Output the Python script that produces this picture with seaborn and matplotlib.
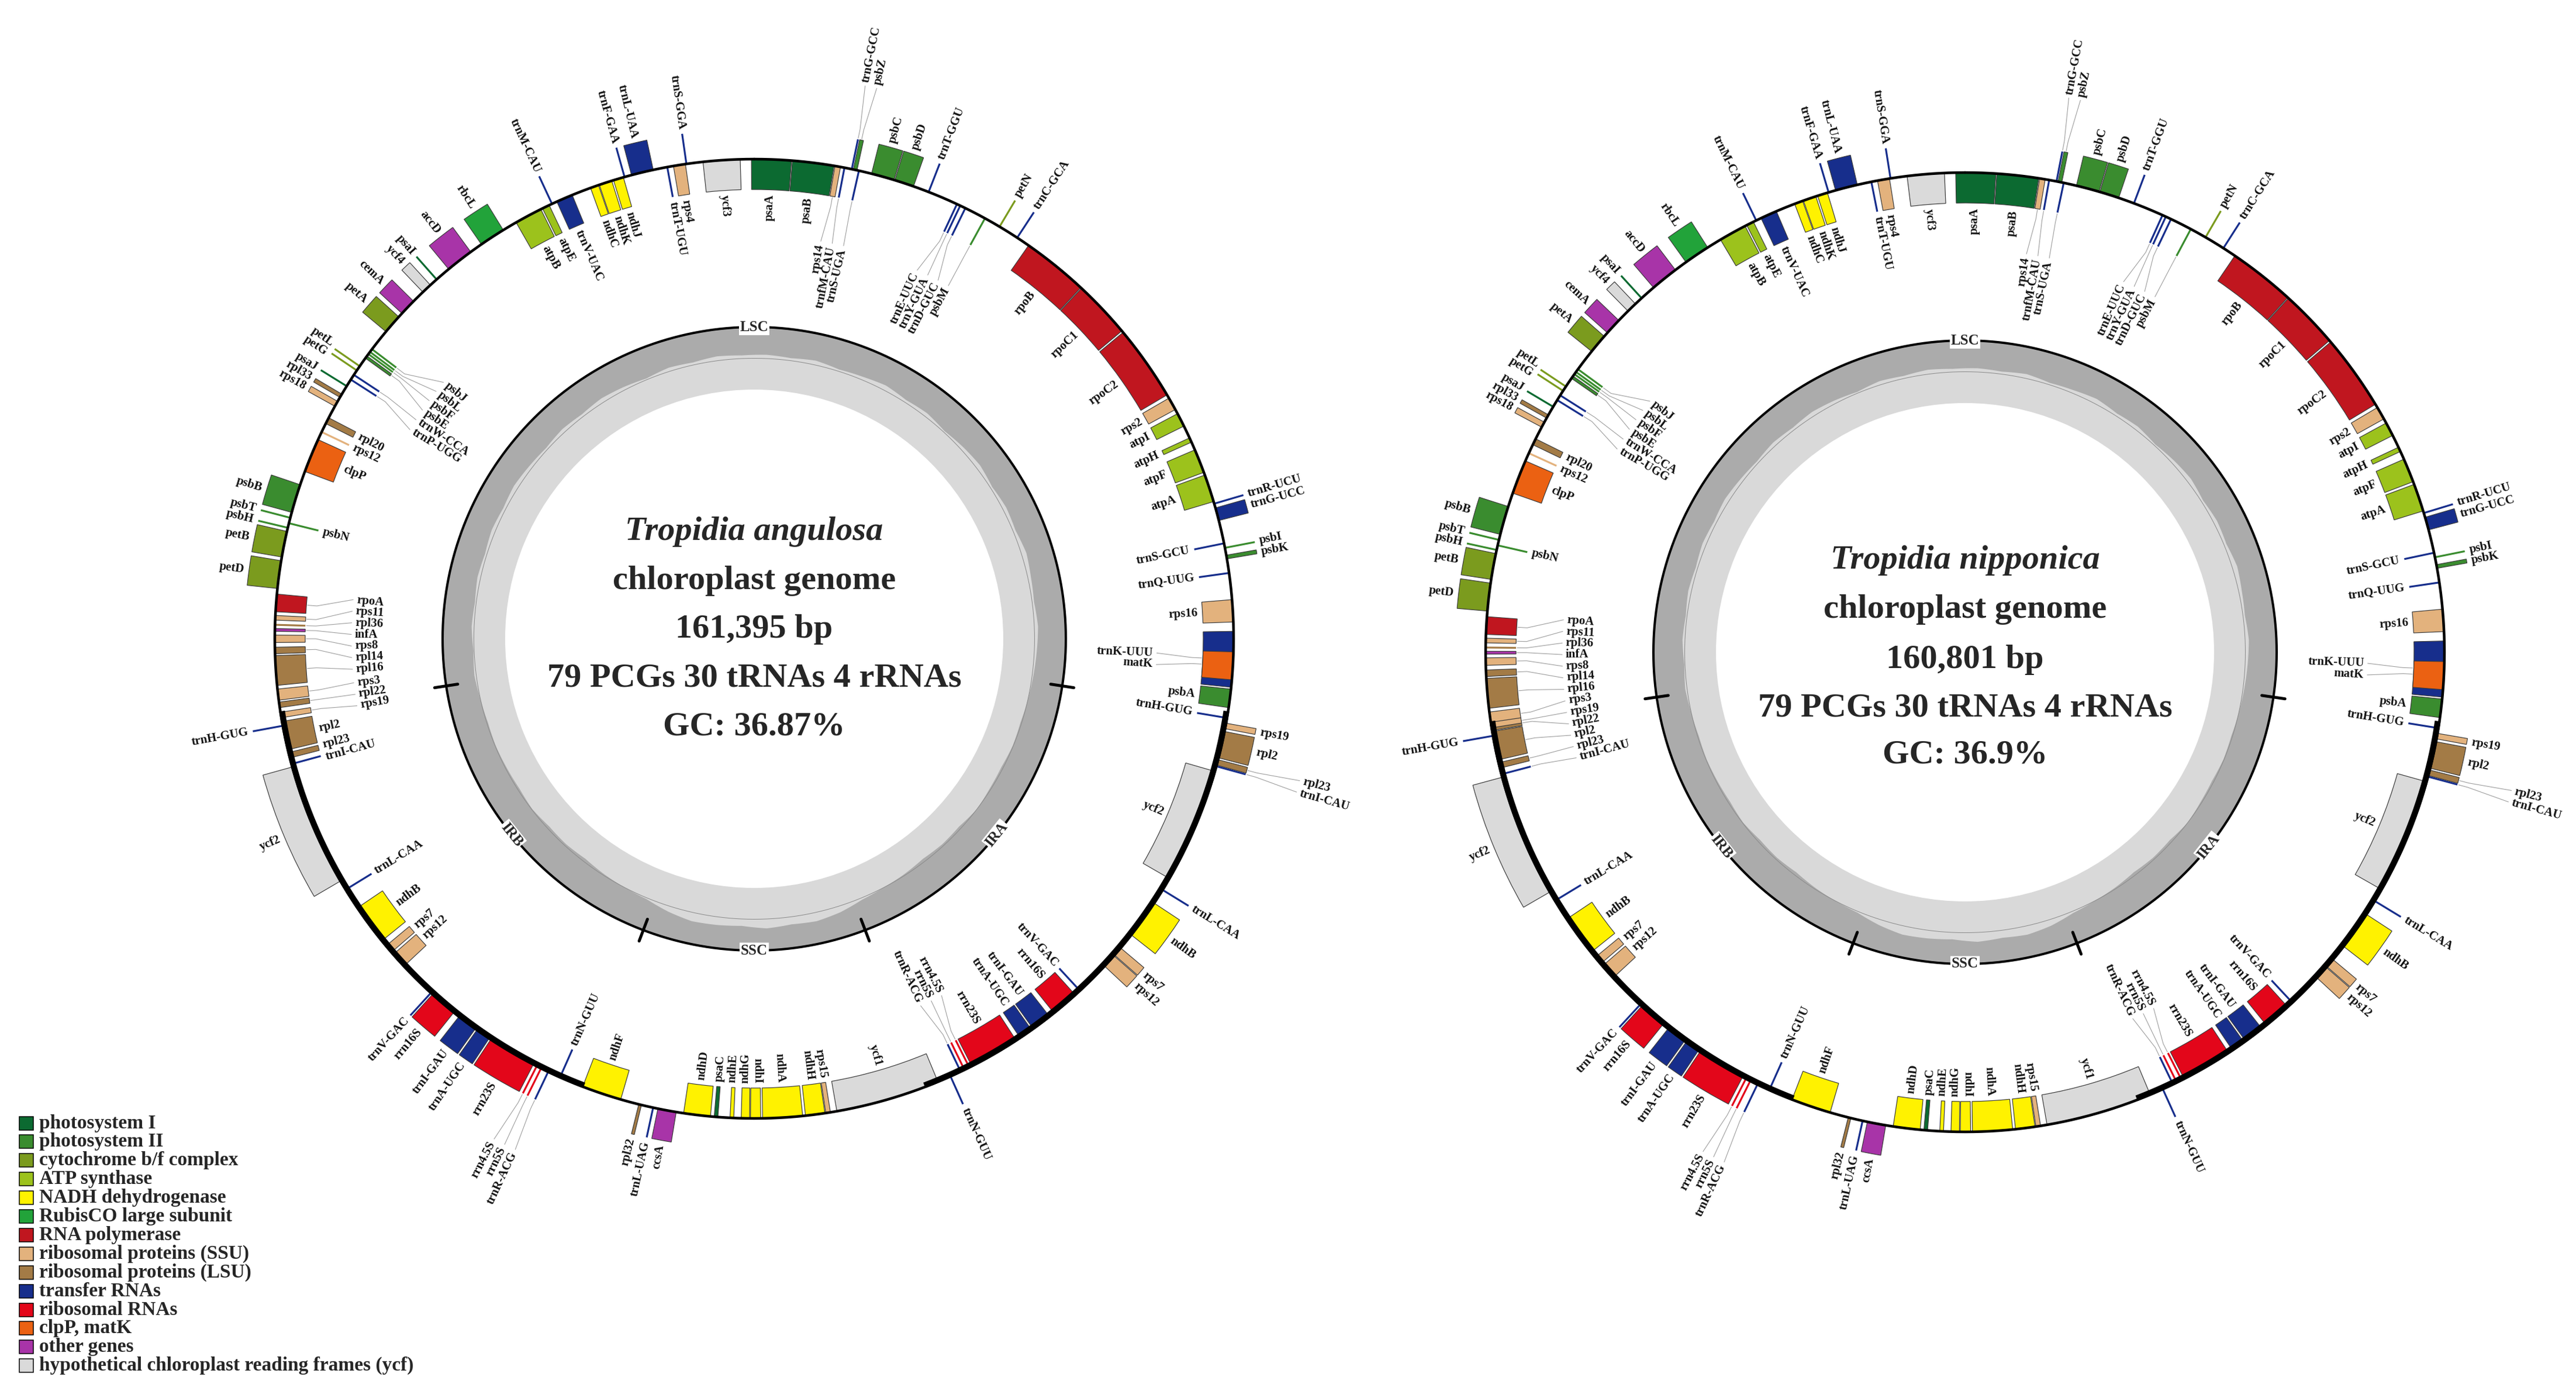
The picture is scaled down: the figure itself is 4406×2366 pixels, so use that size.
import numpy as np
import matplotlib
matplotlib.use("Agg")
import matplotlib.pyplot as plt
from matplotlib.patches import Wedge, Rectangle, Polygon
import seaborn as sns

sns.set_theme(style="white")
plt.rcParams["font.family"] = ["Liberation Serif", "DejaVu Serif"]

# genome summaries (left map, right map)
species = ["Tropidia angulosa", "Tropidia nipponica"]
genome_bp = [161395, 160801]
lsc_kb = [88.5, 87.8]
ir_kb = [27.1, 27.1]
ssc_kb = [18.7, 18.8]
gc_text = ["36.87%", "36.9%"]
n_pcg, n_trna, n_rrna = 79, 30, 4

gene_name = [
    "psbA", "trnK-UUU", "matK", "rps16", "trnQ-UUG", "psbK", "psbI", "trnS-GCU",
    "trnG-UCC", "trnR-UCU", "atpA", "atpF", "atpH", "atpI", "rps2", "rpoC2",
    "rpoC1", "rpoB", "trnC-GCA", "petN", "psbM", "trnD-GUC", "trnY-GUA", "trnE-UUC",
    "trnT-GGU", "psbD", "psbC", "trnS-UGA", "psbZ", "trnG-GCC", "trnfM-CAU", "rps14",
    "psaB", "psaA", "ycf3", "trnS-GGA", "rps4", "trnT-UGU", "trnL-UAA", "trnF-GAA",
    "ndhJ", "ndhK", "ndhC", "trnV-UAC", "trnM-CAU", "atpE", "atpB", "rbcL",
    "accD", "psaI", "ycf4", "cemA", "petA", "psbJ", "psbL", "psbF",
    "psbE", "petL", "petG", "trnW-CCA", "trnP-UGG", "psaJ", "rpl33", "rps18",
    "rpl20", "rps12", "clpP", "psbB", "psbT", "psbN", "psbH", "petB",
    "petD", "rpoA", "rps11", "rpl36", "infA", "rps8", "rpl14", "rpl16",
    "rps3", "rpl22",
    "rps19", "rpl2", "trnH-GUG", "rpl23", "trnI-CAU", "ycf2", "trnL-CAA", "ndhB",
    "rps7", "rps12", "trnV-GAC", "rrn16S", "trnI-GAU", "trnA-UGC", "rrn23S", "rrn4.5S",
    "rrn5S", "trnR-ACG", "trnN-GUU",
    "ndhF", "rpl32", "trnL-UAG", "ccsA", "ndhD", "psaC", "ndhE", "ndhG",
    "ndhI", "ndhA", "ndhH", "rps15", "ycf1",
    "trnN-GUU", "trnR-ACG", "rrn5S", "rrn4.5S", "rrn23S", "trnA-UGC", "trnI-GAU", "rrn16S",
    "trnV-GAC", "rps12", "rps7", "ndhB", "trnL-CAA", "ycf2", "trnI-CAU", "rpl23",
    "rpl2", "rps19", "trnH-GUG",
]
gene_start = [
    0.2, 1.3, 1.7, 4.8, 7.4, 8.2, 8.75, 9.0,
    10.3, 11.2, 11.35, 13.0, 14.75, 15.7, 16.7, 17.6,
    21.8, 25.0, 29.3, 30.4, 31.3, 32.5, 32.8, 33.0,
    34.65, 35.55, 36.65, 38.55, 38.7, 38.95, 39.35, 39.6,
    39.95, 42.25, 45.0, 47.85, 47.95, 48.9, 49.7, 51.25,
    51.35, 52.0, 52.75, 54.25, 55.4, 55.6, 56.1, 58.4,
    60.5, 62.8, 63.3, 64.55, 65.7, 67.9, 68.1, 68.25,
    68.4, 69.05, 69.3, 69.6, 69.9, 70.3, 70.85, 71.3,
    72.3, 73.1, 73.6, 76.2, 78.0, 78.3, 78.55, 78.8,
    80.4, 82.2, 83.35, 83.8, 84.05, 84.4, 85.05, 85.5,
    87.3, 88.0,
    88.55, 89.05, 89.25, 90.75, 91.35, 91.55, 98.7, 99.9,
    102.45, 103.05, 105.9, 106.05, 107.9, 109.1, 110.0, 112.8,
    113.05, 113.5, 114.2,
    115.55, 118.7, 119.45, 119.75, 121.15, 122.8, 123.65, 124.25,
    124.75, 125.4, 127.7, 128.8, 129.4,
    135.75, 136.35, 136.55, 136.85, 137.05, 140.05, 140.9, 142.3,
    144.1, 146.0, 146.8, 148.2, 151.1, 151.85, 158.35, 158.45,
    158.85, 160.45, 161.0,
]
gene_end = [
    1.2, 4.3, 3.2, 6.0, 7.47, 8.4, 8.85, 9.09,
    11.0, 11.27, 12.85, 14.3, 15.0, 16.45, 17.4, 21.7,
    24.95, 28.6, 29.37, 30.5, 31.4, 32.57, 32.88, 33.07,
    34.72, 36.6, 37.9, 38.64, 38.9, 39.02, 39.42, 39.9,
    42.2, 44.4, 47.0, 47.94, 48.6, 48.97, 50.9, 51.32,
    51.9, 52.7, 53.2, 55.15, 55.47, 56.0, 57.6, 59.8,
    62.0, 62.9, 63.85, 65.45, 66.75, 68.0, 68.16, 68.3,
    68.55, 69.1, 69.4, 69.67, 69.97, 70.4, 71.05, 71.6,
    72.65, 73.2, 75.45, 77.75, 78.1, 78.4, 78.65, 80.2,
    81.9, 83.15, 83.6, 83.9, 84.2, 84.8, 85.4, 87.1,
    87.9, 88.3,
    88.85, 90.6, 89.32, 91.05, 91.42, 98.2, 98.78, 102.1,
    102.9, 103.9, 105.97, 107.55, 109.0, 109.9, 112.65, 112.9,
    113.17, 113.57, 114.27,
    117.7, 118.85, 119.53, 120.75, 122.6, 123.0, 123.85, 124.7,
    125.3, 127.55, 128.75, 129.05, 135.05,
    135.82, 136.42, 136.67, 136.95, 139.8, 140.8, 142.0, 143.8,
    144.17, 146.75, 147.3, 150.3, 151.18, 158.1, 158.42, 158.75,
    160.3, 160.75, 161.07,
]
gene_side = [
    "i", "i", "i", "i", "i", "o", "o", "i",
    "o", "o", "i", "i", "i", "i", "i", "i",
    "i", "i", "o", "o", "i", "i", "i", "i",
    "o", "o", "o", "i", "o", "o", "i", "i",
    "i", "i", "i", "o", "i", "i", "o", "o",
    "i", "i", "i", "i", "o", "i", "i", "o",
    "o", "o", "o", "o", "o", "i", "i", "i",
    "i", "o", "o", "i", "i", "o", "o", "o",
    "i", "i", "i", "o", "o", "i", "o", "o",
    "o", "i", "i", "i", "i", "i", "i", "i",
    "i", "i",
    "i", "i", "o", "i", "i", "o", "i", "i",
    "i", "i", "o", "o", "o", "o", "o", "o",
    "o", "o", "i",
    "i", "o", "o", "o", "i", "i", "i", "i",
    "i", "i", "i", "i", "i",
    "o", "i", "i", "i", "i", "i", "i", "i",
    "i", "o", "o", "o", "o", "i", "o", "o",
    "o", "o", "i",
]

# depth of the dark GC band (fraction of ring), 5 degree bins clockwise from the top
gc_depth = [
    0.44, 0.46, 0.43, 0.47, 0.45, 0.42, 0.46, 0.44, 0.48, 0.45,
    0.43, 0.47, 0.44, 0.46, 0.42, 0.45, 0.47, 0.44, 0.46, 0.48,
    0.50, 0.52, 0.51, 0.53, 0.52, 0.50, 0.54, 0.53, 0.55, 0.52,
    0.50, 0.47, 0.40, 0.36, 0.38, 0.35, 0.39, 0.37, 0.36, 0.41,
    0.48, 0.50, 0.52, 0.55, 0.53, 0.54, 0.51, 0.53, 0.52, 0.51,
    0.52, 0.50, 0.47, 0.49, 0.46, 0.48, 0.45, 0.47, 0.44, 0.46,
    0.43, 0.45, 0.47, 0.44, 0.46, 0.43, 0.45, 0.48, 0.44, 0.46,
    0.43, 0.45,
]

legend_labels = [
    "photosystem I", "photosystem II", "cytochrome b/f complex", "ATP synthase",
    "NADH dehydrogenase", "RubisCO large subunit", "RNA polymerase",
    "ribosomal proteins (SSU)", "ribosomal proteins (LSU)", "transfer RNAs",
    "ribosomal RNAs", "clpP, matK", "other genes",
    "hypothetical chloroplast reading frames (ycf)",
]
group_keys = ["PSI", "PSII", "CYT", "ATP", "NDH", "RBC", "RPO", "RPS", "RPL",
              "TRN", "RRN", "CLP", "OTH", "YCF"]
palette = sns.color_palette([
    "#0c6a31", "#3a8c2f", "#7b9b1e", "#9cc21c", "#fff200", "#22a33a", "#c0161f",
    "#e3b27d", "#a37b46", "#172e8c", "#e3061a", "#eb6112", "#a834a8", "#dadada",
])
group_color = dict(zip(group_keys, palette))


def group_of(n):
    prefixes = [("psa", "PSI"), ("psb", "PSII"), ("pet", "CYT"), ("atp", "ATP"),
                ("ndh", "NDH"), ("rbc", "RBC"), ("rpo", "RPO"), ("rps", "RPS"),
                ("rpl", "RPL"), ("trn", "TRN"), ("rrn", "RRN"), ("ycf", "YCF")]
    if n in ("clpP", "matK"):
        return "CLP"
    for p, g in prefixes:
        if n.startswith(p):
            return g
    return "OTH"


W, H, DPI = 4406, 2366, 100
PX = 72.0 / DPI          # points per pixel
R = 820                  # gene circle
BOX = 52                 # gene box height
R_GC_OUT, R_GC_IN = 533, 426
LABEL_FS = 15
BOLD = "bold"


def pt(cx, cy, r, th):
    t = np.radians(th)
    return cx + r * np.sin(t), cy - r * np.cos(t)


def spread(vals, sep):
    """Spread sorted label angles to a minimum gap; returns positions and a
    flag per label telling whether its cluster had to be moved."""
    order = np.argsort(vals)
    v = np.asarray(vals, float)[order]
    clusters = [[i] for i in range(len(v))]
    centers = list(v)
    while True:
        merged = False
        for k in range(len(clusters) - 1):
            end1 = centers[k] + (len(clusters[k]) - 1) * sep / 2
            start2 = centers[k + 1] - (len(clusters[k + 1]) - 1) * sep / 2
            if start2 - end1 < sep:
                members = clusters[k] + clusters[k + 1]
                clusters[k] = members
                centers[k] = float(np.mean(v[members]))
                del clusters[k + 1]
                del centers[k + 1]
                merged = True
                break
        if not merged:
            break
    placed = np.empty(len(v))
    moved = np.zeros(len(v), bool)
    for c, members in zip(centers, clusters):
        n = len(members)
        for j, m in enumerate(members):
            placed[m] = c + (j - (n - 1) / 2) * sep
        shift = max(abs(placed[m] - v[m]) for m in members)
        for m in members:
            moved[m] = shift > 0.3
    out = np.empty(len(v))
    flag = np.empty(len(v), bool)
    out[order] = placed
    flag[order] = moved
    return out, flag


def radial_text(ax, cx, cy, r, th, text, side):
    x, y = pt(cx, cy, r, th)
    phi = (90 - th + 180) % 360 - 180
    right = -90 <= phi <= 90
    rot = phi if right else phi + 180
    if side == "o":
        ha = "left" if right else "right"
    else:
        ha = "right" if right else "left"
    ax.text(x, y, text, rotation=rot, rotation_mode="anchor", ha=ha, va="center",
            fontsize=LABEL_FS, fontweight=BOLD, color="#111111", zorder=6)


def draw_map(ax, k, cx, cy, text_y):
    size = genome_bp[k] / 1000.0
    ref = [0, lsc_kb[0], lsc_kb[0] + ir_kb[0], lsc_kb[0] + ir_kb[0] + ssc_kb[0]]
    cur = [0, lsc_kb[k], lsc_kb[k] + ir_kb[k], lsc_kb[k] + ir_kb[k] + ssc_kb[k]]
    th0 = lsc_kb[k] / size * 180.0

    def remap(p):
        j = max(i for i in range(4) if p >= ref[i])
        return cur[j] + p - ref[j]

    def ang(p):
        return th0 - p / size * 360.0

    # GC content ring
    ax.add_patch(Wedge((cx, cy), R_GC_OUT, 0, 360, width=R_GC_OUT - R_GC_IN,
                       facecolor="#d9d9d9", edgecolor="none", zorder=1))
    centers = np.arange(len(gc_depth)) * 5 + 2.5
    tf = np.linspace(0, 360, 1441)
    dep = np.interp(tf, np.r_[centers - 360, centers, centers + 360], np.tile(gc_depth, 3))
    r_edge = R_GC_OUT - dep * (R_GC_OUT - R_GC_IN)
    outer = [pt(cx, cy, R_GC_OUT, t) for t in tf]
    inner = [pt(cx, cy, r, t) for r, t in zip(r_edge, tf)][::-1]
    ax.add_patch(Polygon(outer + inner, closed=True, facecolor="#ababab",
                         edgecolor="none", zorder=1.5))
    tc = np.linspace(0, 360, 1441)
    mx, my = pt(cx, cy, (R_GC_OUT + R_GC_IN) / 2, tc)
    ax.plot(mx, my, color="#8a8a8a", lw=1.0 * PX, zorder=1.8)
    ox, oy = pt(cx, cy, R_GC_OUT, tc)
    ax.plot(ox, oy, color="black", lw=4 * PX, zorder=2)

    # region boundaries and names on the inner circle
    bounds = [0, cur[1], cur[2], cur[3]]
    for b in bounds:
        x0, y0 = pt(cx, cy, R_GC_OUT - 20, ang(b))
        x1, y1 = pt(cx, cy, R_GC_OUT + 20, ang(b))
        ax.plot([x0, x1], [y0, y1], color="black", lw=5 * PX, zorder=2.2)
    region_mid = [(0 + cur[1]) / 2, (cur[1] + cur[2]) / 2, (cur[2] + cur[3]) / 2,
                  (cur[3] + size) / 2]
    for name, m in zip(["LSC", "IRB", "SSC", "IRA"], region_mid):
        th = ang(m)
        x, y = pt(cx, cy, R_GC_OUT, th)
        rot = (-th + 90) % 180 - 90
        ax.text(x, y, name, rotation=rot, rotation_mode="anchor", ha="center",
                va="center", fontsize=18, fontweight=BOLD, zorder=2.5,
                bbox=dict(facecolor="white", edgecolor="none", pad=1.5))

    # gene boxes
    labels = {"o": [], "i": []}
    for name, s, e, side in zip(gene_name, gene_start, gene_end, gene_side):
        a1, a2 = ang(remap(s)), ang(remap(e))
        col = group_color[group_of(name)]
        r0, r1 = (R, R + BOX) if side == "o" else (R - BOX, R)
        mid = (a1 + a2) / 2
        if a1 - a2 < 0.3:
            x0, y0 = pt(cx, cy, r0, mid)
            x1, y1 = pt(cx, cy, r1, mid)
            ax.plot([x0, x1], [y0, y1], color=col, lw=3.2 * PX,
                    solid_capstyle="butt", zorder=3)
        else:
            ax.add_patch(Wedge((cx, cy), r1, a2 - 90, a1 - 90, width=BOX,
                               facecolor=col, edgecolor="#3a3a3a", lw=1.2 * PX,
                               zorder=3))
        labels[side].append(((th0 - mid) % 360, name))

    # gene circle, with heavier line along the inverted repeats
    gx, gy = pt(cx, cy, R, tc)
    ax.plot(gx, gy, color="black", lw=4.5 * PX, zorder=4)
    for a, b in [(cur[1], cur[2]), (cur[3], size)]:
        ta = np.linspace(ang(a), ang(b), 300)
        ix, iy = pt(cx, cy, R - 3, ta)
        ax.plot(ix, iy, color="black", lw=10 * PX, solid_capstyle="butt", zorder=4)

    # labels
    for side, sep in [("o", 1.2), ("i", 1.65)]:
        items = labels[side]
        d = np.array([it[0] for it in items])
        placed, moved = spread(d, sep)
        sgn = 1 if side == "o" else -1
        r_tip = R + sgn * BOX
        for (d0, name), dp, mv in zip(items, placed, moved):
            th_g, th_l = th0 - d0, th0 - dp
            if not mv:
                radial_text(ax, cx, cy, r_tip + sgn * 8, th_l, name, side)
            else:
                r_lab = R + 150 if side == "o" else R - 137
                p1 = pt(cx, cy, r_tip + sgn * 2, th_g)
                p2 = pt(cx, cy, r_tip + sgn * 18, th_g)
                p3 = pt(cx, cy, r_lab - sgn * 6, th_l)
                ax.plot([p1[0], p2[0], p3[0]], [p1[1], p2[1], p3[1]],
                        color="#9c9c9c", lw=1.1 * PX, zorder=2.8)
                radial_text(ax, cx, cy, r_lab, th_l, name, side)

    # centre text
    lines = [species[k], "chloroplast genome", f"{genome_bp[k]:,} bp",
             f"{n_pcg} PCGs {n_trna} tRNAs {n_rrna} rRNAs", f"GC: {gc_text[k]}"]
    for j, (txt, ty) in enumerate(zip(lines, text_y)):
        ax.text(cx, ty, txt, ha="center", va="center", fontsize=42,
                fontweight=BOLD, fontstyle="italic" if j == 0 else "normal",
                zorder=6)


fig = plt.figure(figsize=(W / DPI, H / DPI), dpi=DPI)
ax = fig.add_axes([0, 0, 1, 1])
ax.set_xlim(0, W)
ax.set_ylim(H, 0)
ax.axis("off")

draw_map(ax, 0, 1290, 1092, [909, 993, 1076, 1159, 1242])
draw_map(ax, 1, 3361, 1115, [958, 1042, 1128, 1210, 1290])

# legend
for j, (lab, key) in enumerate(zip(legend_labels, group_keys)):
    yc = 1920 + j * 31.9
    ax.add_patch(Rectangle((33, yc - 11.5), 24, 23, facecolor=group_color[key],
                           edgecolor="black", lw=1.5 * PX, zorder=5))
    ax.text(67, yc, lab, ha="left", va="center", fontsize=24, fontweight=BOLD, zorder=5)

fig.savefig("out.png", dpi=DPI)
